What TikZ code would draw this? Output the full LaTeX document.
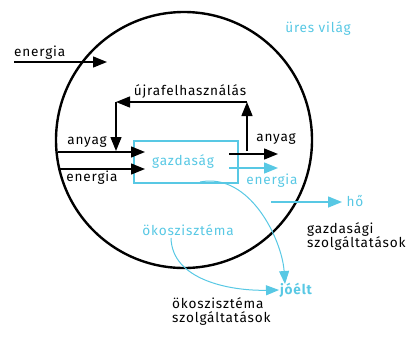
\documentclass[tikz,border=0pt]{standalone}
\usepackage{fontspec}
\setmainfont{Fira Sans}[LetterSpace=6]
\usetikzlibrary{arrows.meta}
\definecolor{skyb}{RGB}{88,200,228}
\tikzset{
  lbl/.style={inner sep=0pt, font=\fontsize{13.6}{15}\selectfont},
  blbl/.style={lbl, text=skyb},
  arr/.style={line width=1.4pt, -{Triangle[length=14pt,width=11pt]}},
  barr/.style={arr, skyb},
  carr/.style={line width=1pt, skyb, -{Triangle[length=13pt,width=10pt]}}
}
\begin{document}
\begin{tikzpicture}[x=1pt,y=-1pt]
\useasboundingbox (0,0) rectangle (406,341);
% world circle
\node[draw, circle, line width=2.4pt, minimum size=256pt, inner sep=0pt] (world) at (184,140) {};
\node[blbl] (ures) at (318,28) {üres világ};
% economy box
\node[draw=skyb, line width=2pt, minimum width=104pt, minimum height=42pt, inner sep=0pt] (box) at (186,162) {};
\node[blbl] (gazd) at (183,161) {gazdaság};
% outer energy in
\coordinate (e0s) at (14,62);
\coordinate (e0e) at (107,62);
\node[lbl, anchor=base west] (elbl0) at (14,56) {energia};
\draw[arr] (e0s) -- (e0e);
% inputs
\coordinate (as) at (58,152);
\coordinate (ae) at (145,152);
\coordinate (es) at (58,169);
\coordinate (ee) at (145,169);
\draw[arr] (as) -- (ae);
\draw[arr] (es) -- (ee);
\node[lbl] (anyin) at (87,142) {anyag};
\node[lbl] (enin) at (92,178) {energia};
% recycling loop
\coordinate (r0) at (247,151);
\coordinate (r1) at (247,102);
\coordinate (r2) at (116,102);
\coordinate (r3) at (116,151);
\draw[arr] (r0) -- (r1);
\draw[arr] (r1) -- (r2);
\draw[arr] (r2) -- (r3);
\node[lbl] (reuse) at (190,91) {újrafelhasználás};
% outputs
\coordinate (aos) at (229,154);
\coordinate (aoe) at (278,154);
\coordinate (eos) at (229,168);
\coordinate (eoe) at (278,168);
\draw[arr] (aos) -- (aoe);
\draw[barr] (eos) -- (eoe);
\node[lbl] (anyout) at (276,139) {anyag};
\node[blbl] (enout) at (272,181) {energia};
% heat
\coordinate (hs) at (271,202);
\coordinate (he) at (342,202);
\draw[barr] (hs) -- (he);
\node[blbl] (ho) at (355,201) {hő};
\node[lbl, align=left, anchor=north west] (gszolg) at (307,222) {gazdasági\\[-1pt]szolgáltatások};
% ecosystem
\node[blbl] (oko) at (188,230) {ökoszisztéma};
\node[lbl, text=skyb, font=\fontsize{13.6}{15}\selectfont\bfseries] (joelt) at (296,290) {jóélt};
\node[lbl, align=left, anchor=north west] (oszolg) at (172,297) {ökoszisztéma\\[-1pt]szolgáltatások};
\coordinate (c1s) at (200,182);
\coordinate (c1e) at (285,284);
\draw[carr] (c1s) .. controls (250,172) and (282,240) .. (c1e);
\coordinate (c2s) at (171,238);
\coordinate (c2e) at (279,290);
\draw[carr] (c2s) .. controls (172,280) and (230,291) .. (c2e);
\end{tikzpicture}
\end{document}
